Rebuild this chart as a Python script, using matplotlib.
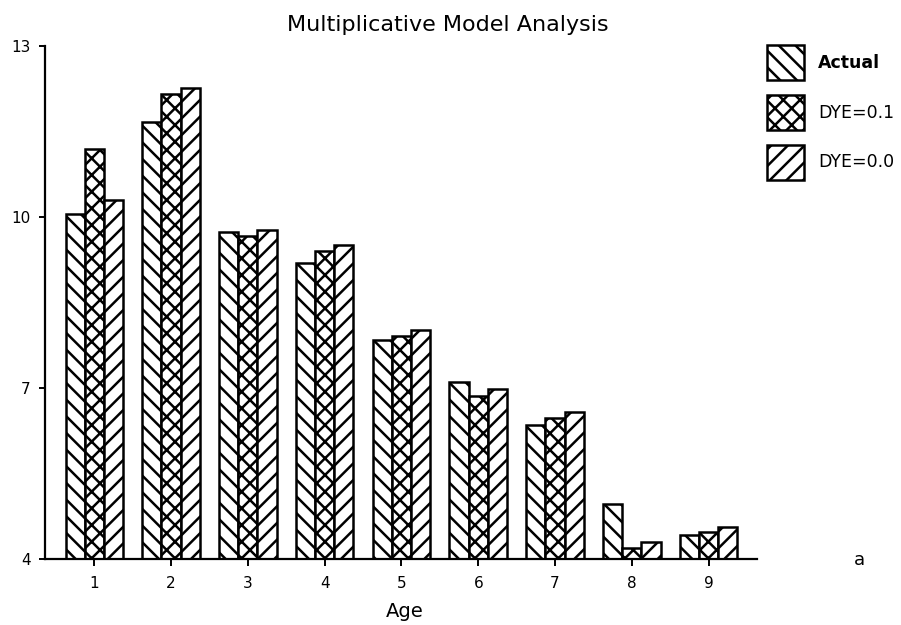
import matplotlib
matplotlib.use("Agg")
import matplotlib.pyplot as plt
import numpy as np

ages = [1, 2, 3, 4, 5, 6, 7, 8, 9]
actual = [10.05, 11.66, 9.73, 9.20, 7.84, 7.11, 6.35, 4.96, 4.42]
dye_01 = [11.20, 12.16, 9.67, 9.40, 7.91, 6.86, 6.47, 4.19, 4.48]
dye_00 = [10.30, 12.26, 9.77, 9.51, 8.02, 6.98, 6.58, 4.29, 4.57]
series_labels = ["Actual", "DYE=0.1", "DYE=0.0"]
yticks = [4, 7, 10, 13]

plt.rcParams['hatch.linewidth'] = 1.8
plt.rcParams['font.family'] = ['DejaVu Sans']

fig = plt.figure(figsize=(9.01, 6.25), dpi=100)
ax = fig.add_axes([45 / 901, 66 / 625, 712 / 901, 513 / 625])

x = np.array(ages, dtype=float)
w = 0.25
hatches = ['\\\\', 'xx', '//']
for k, (vals, lab, h) in enumerate(zip([actual, dye_01, dye_00], series_labels, hatches)):
    ax.bar(x + (k - 1) * w, vals, width=w, facecolor='white', edgecolor='black',
           linewidth=1.8, hatch=h, label=lab, zorder=2)

ax.set_xlim(0.358, 9.63)
ax.set_ylim(4, 13)
ax.set_xticks(ages)
ax.set_xticklabels([str(a) for a in ages])
ax.set_yticks(yticks)
ax.set_yticklabels([str(t) for t in yticks])
for s in ['top', 'right']:
    ax.spines[s].set_visible(False)
ax.spines['left'].set_linewidth(1.6)
ax.spines['bottom'].set_linewidth(1.6)
ax.spines['bottom'].set_zorder(3)
ax.tick_params(axis='x', direction='out', length=5, width=1.4, pad=7, labelsize=11)
ax.tick_params(axis='y', direction='out', length=4.5, width=1.4, pad=6, labelsize=11)

ax.set_xlabel("Age", fontsize=14)
ax.xaxis.set_label_coords(0.505, -0.083)
ax.xaxis.label.set_va('top')

fig.text(448 / 901, 1 - 31 / 625, "Multiplicative Model Analysis", ha='center',
         va='baseline', fontsize=16)
fig.text(859 / 901, 1 - 565 / 625, "a", ha='center', va='baseline', fontsize=13)

leg = fig.legend(loc='upper left', bbox_to_anchor=(767 / 901, 1 - 45 / 625),
                 frameon=False, borderpad=0, borderaxespad=0, fontsize=12.5,
                 handlelength=2.13, handleheight=2.72, labelspacing=0.86,
                 handletextpad=0.8)
leg.get_texts()[0].set_fontweight('bold')

fig.savefig("out.png", dpi=100)
